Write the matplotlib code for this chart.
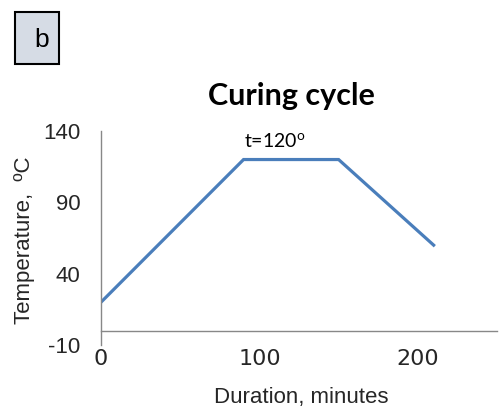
from matplotlib import pyplot as plt
from matplotlib.patches import Rectangle

plt.rcParams['axes.unicode_minus'] = False

# curing cycle profile
duration = [0, 90, 150, 210]
temperature = [20, 120, 120, 60]
xticks = [0, 100, 200]
yticks = [-10, 40, 90, 140]

fig = plt.figure(figsize=(4.99, 4.12), dpi=100)
ax = fig.add_axes([101/499, 67/412, 396/499, 214/412])

ax.plot(duration, temperature, color='#4a7ebb', lw=2.3, solid_joinstyle='miter')

ax.set_xlim(0, 250)
ax.set_ylim(-10, 140)
ax.set_xticks(xticks)
ax.set_yticks(yticks)
ax.tick_params(length=0, labelsize=16, colors='#262626')
for lbl in ax.get_xticklabels() + ax.get_yticklabels():
    lbl.set_family('Liberation Sans')

ax.spines['top'].set_visible(False)
ax.spines['right'].set_visible(False)
ax.spines['bottom'].set_position(('data', 0))
ax.spines['bottom'].set_color('#888888')
ax.spines['left'].set_color('#888888')
ax.spines['bottom'].set_linewidth(1)
ax.spines['left'].set_linewidth(1)
# tick labels sit below the -10 line / away from the axis
ax.xaxis.set_tick_params(pad=13)
ax.yaxis.set_tick_params(pad=15)

fig.text(291/499, 1 - 96/412, 'Curing cycle', ha='center', va='center',
         fontsize=22, fontweight='bold', family='Lato')
ax.text(90, 126, 't=120$^{\\mathregular{o}}$', ha='left', va='bottom', fontsize=14, family='Lato')

fig.text(301/499, 1 - 398/412, 'Duration, minutes', ha='center', va='center',
         fontsize=16, family='Liberation Sans', color='#262626')
fig.text(25/499, 1 - 240/412, 'Temperature,  ºC', ha='center', va='center', rotation=90,
         fontsize=16, family='Liberation Sans', color='#262626')

# panel letter box
fig.patches.append(Rectangle((15/499, 1 - 64/412), 44/499, 52/412, transform=fig.transFigure,
                             facecolor='#d6dce5', edgecolor='black', lw=1.5))
fig.text(42/499, 1 - 40/412, 'b', ha='center', va='center', fontsize=19, family='Liberation Sans')

fig.savefig('out.png', dpi=100)
